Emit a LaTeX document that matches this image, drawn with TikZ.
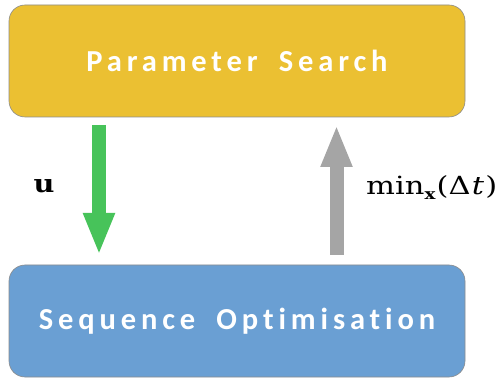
\documentclass[tikz,border=0pt]{standalone}
\usepackage{fontspec}
\newfontfamily\boxfont[LetterSpace=16,WordSpace=1.8,Ligatures=NoCommon]{Carlito}
\newfontfamily\labfont{DejaVu Serif}
\usetikzlibrary{arrows.meta}
\definecolor{yel}{HTML}{EBC032}
\definecolor{blu}{HTML}{6A9FD3}
\definecolor{grn}{HTML}{47C35A}
\definecolor{gry}{HTML}{A5A5A5}
\definecolor{edge}{HTML}{8C8C8C}
\tikzset{
  stagebox/.style={draw=edge, line width=0.6pt, rounded corners=16pt, minimum width=456pt, minimum height=112pt, inner sep=0pt,
    font=\boxfont\bfseries\fontsize{30.5}{34}\selectfont, text=white},
  fatarrow/.style={line width=14pt, -{Triangle[length=42pt, width=29pt]}},
  lab/.style={font=\labfont\fontsize{25}{30}\selectfont, inner sep=0pt}
}
\begin{document}
\begin{tikzpicture}[x=1pt,y=-1pt]
\useasboundingbox (0,0) rectangle (503,379);
\node[stagebox, fill=yel] (ps) at (237,61) {Parameter Search};
\node[stagebox, fill=blu] (so) at (237,321) {Sequence Optimisation};
\coordinate (gs) at (99,125);
\coordinate (ge) at (99,255);
\coordinate (ys) at (336.5,255);
\coordinate (ye) at (336.5,125);
\draw[fatarrow, draw=grn, fill=grn] (gs) -- (ge);
\draw[fatarrow, draw=gry, fill=gry] (ys) -- (ye);
\node[lab, anchor=center] (u) at (44,186) {\scalebox{1.15}[1]{\bfseries u}};
\node[lab, anchor=west] (m) at (366,188) {\scalebox{1.22}[1]{min\raisebox{-5pt}{\fontsize{15}{16}\selectfont\bfseries x}\kern1pt(Δ\kern1pt\textit{t}\kern1pt)}};
\end{tikzpicture}
\end{document}
